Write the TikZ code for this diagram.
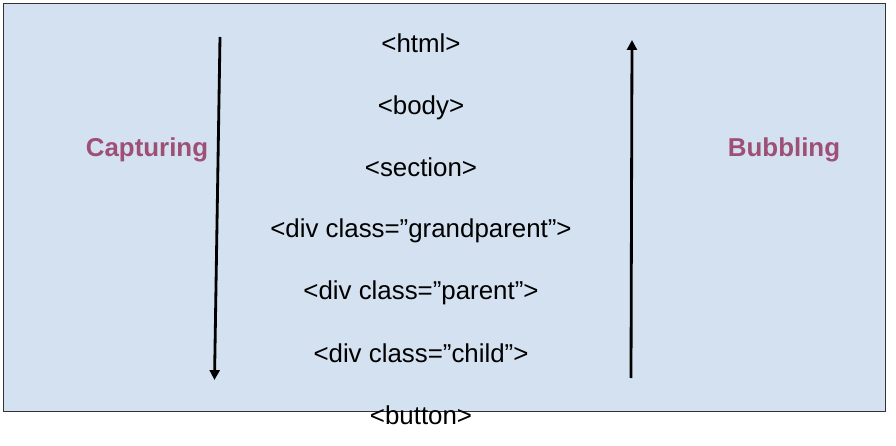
\documentclass[tikz,border=0pt]{standalone}
\usepackage{fontspec}
\setmainfont{Liberation Sans}
\usetikzlibrary{arrows.meta}
\definecolor{panelfill}{HTML}{D4E1F0}
\definecolor{panelline}{HTML}{333333}
\definecolor{phaselabel}{HTML}{9E4F76}

\begin{document}
\begin{tikzpicture}[
  x=0.025cm,
  y=-0.025cm,
  every node/.style={font=\fontsize{18.4}{22}\selectfont, black, inner sep=0pt, anchor=base},
  panel/.style={fill=panelfill, draw=panelline, line width=1.1pt},
  flow/.style={black, line width=2pt, -{Triangle[length=7pt, width=7pt]}},
  phase/.style={font=\fontsize{18.4}{22}\selectfont\bfseries, phaselabel}
]
  \useasboundingbox (0,0) rectangle (896,446);

  % ---- the panel -------------------------------------------------------
  \draw[panel] (3.5,3.5) rectangle (885.5,411.5);

  % ---- the nested elements, outermost first ----------------------------
  \node (html)        at (421,53)  {<html>};
  \node (body)        at (421,115) {<body>};
  \node (section)     at (421,177) {<section>};
  \node (grandparent) at (421,238) {<div class=”grandparent”>};
  \node (parent)      at (421,300) {<div class=”parent”>};
  \node (child)       at (421,362) {<div class=”child”>};
  \node (button)      at (421,424) {<button>};

  % ---- the two phases --------------------------------------------------
  \node[phase] (capturing) at (147,157) {Capturing};
  \node[phase] (bubbling)  at (784,157) {Bubbling};

  \coordinate (capTop) at (220,37);
  \coordinate (capEnd) at (214.5,380);
  \coordinate (bubStart) at (631,378);
  \coordinate (bubTop)   at (632,40);
  \draw[flow] (capTop) -- (capEnd);
  \draw[flow] (bubStart) -- (bubTop);
\end{tikzpicture}
\end{document}
